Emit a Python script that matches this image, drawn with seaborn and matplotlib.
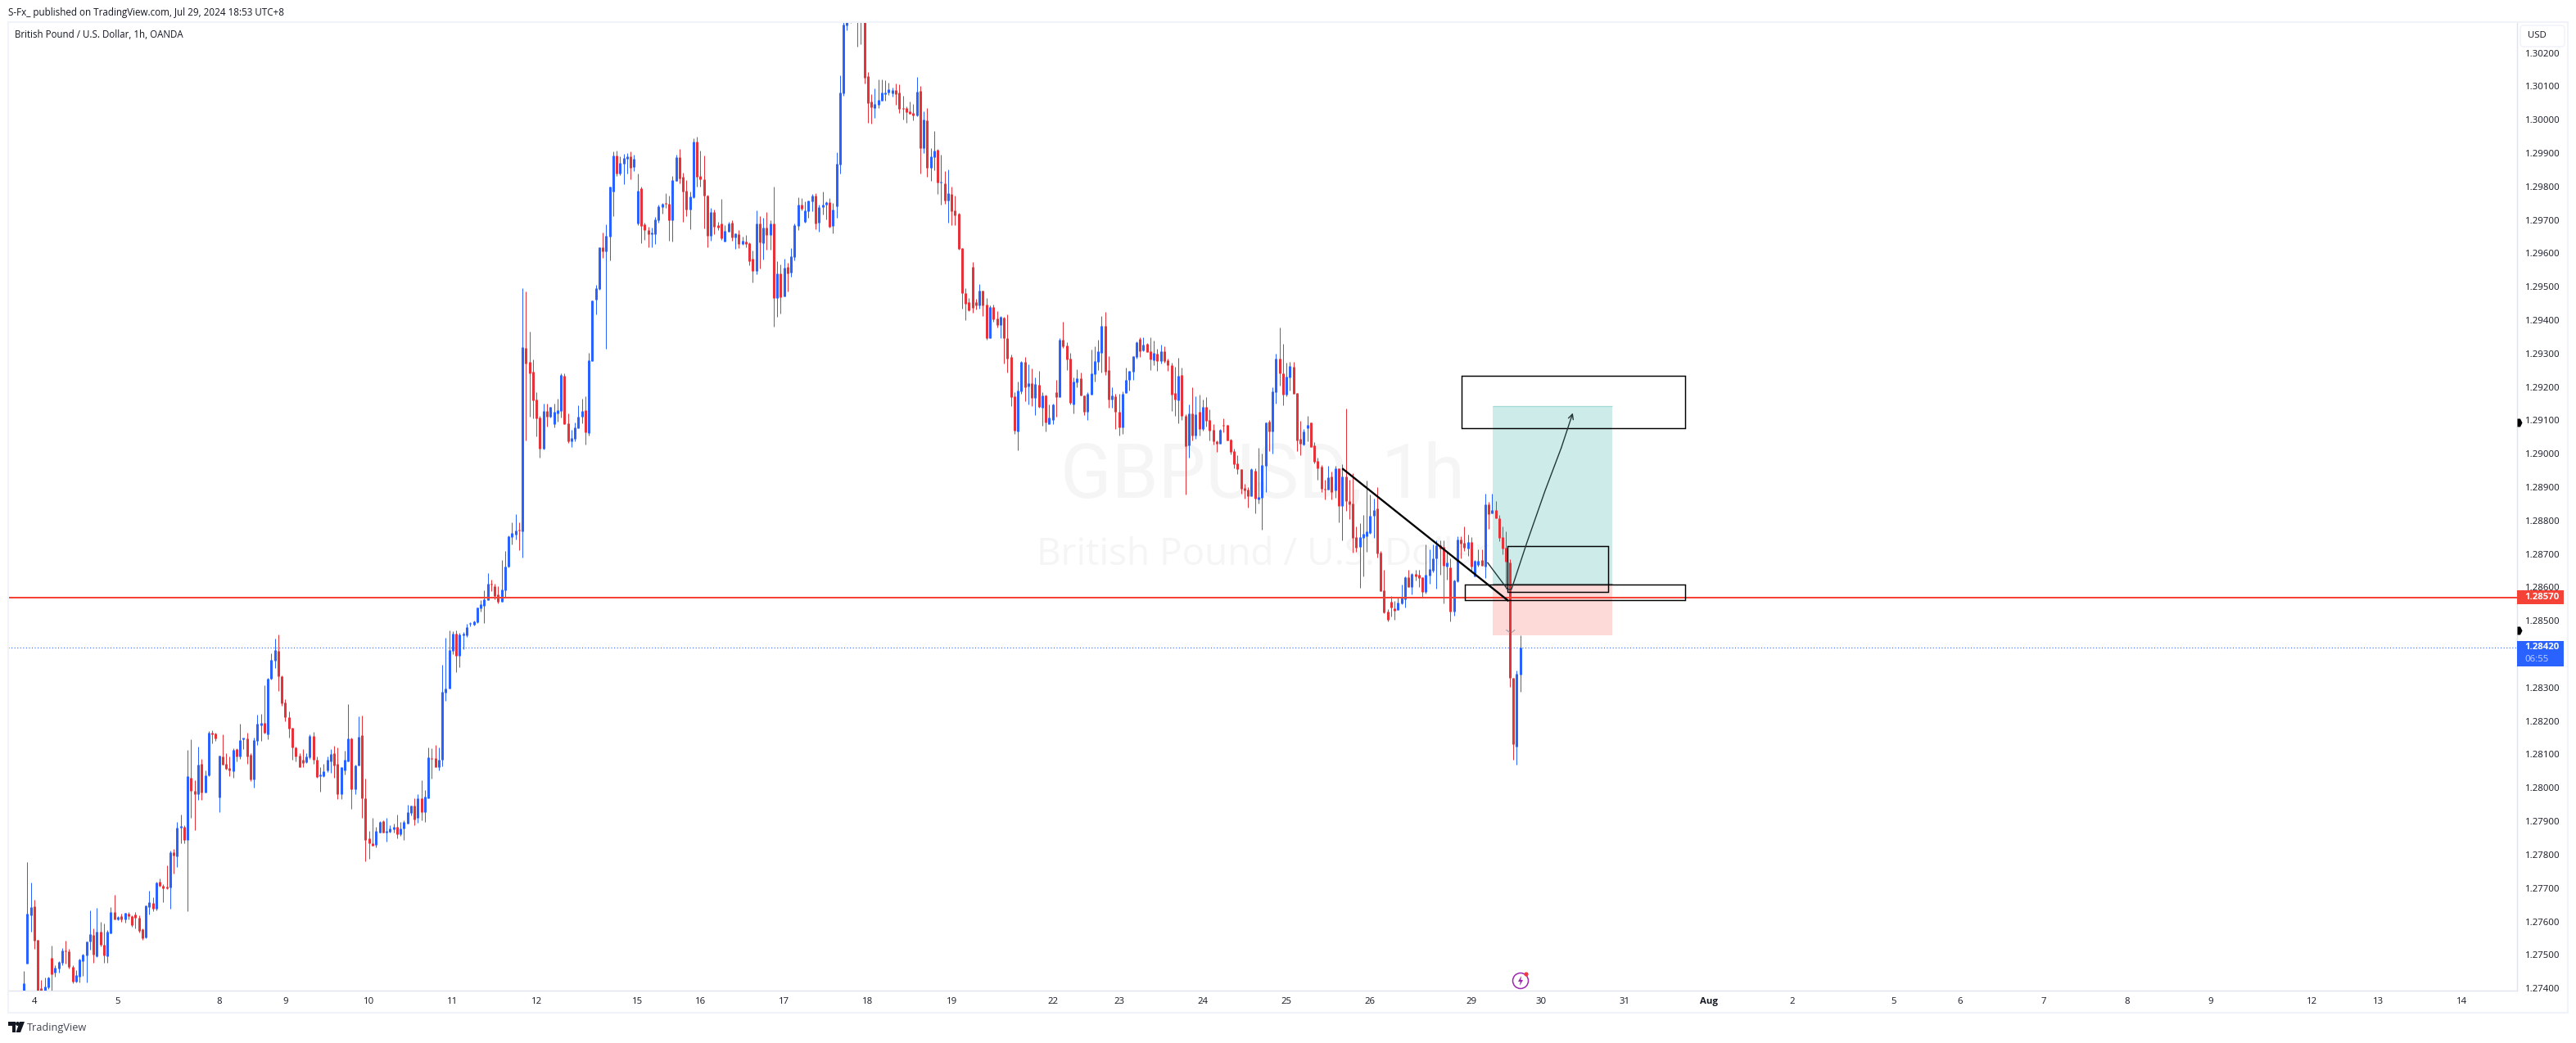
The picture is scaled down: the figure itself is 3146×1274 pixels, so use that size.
import matplotlib
matplotlib.use("Agg")
import matplotlib.pyplot as plt
from matplotlib.patches import Rectangle, Polygon, Circle, FancyBboxPatch
import pandas as pd
import seaborn as sns

# hourly GBPUSD candles, values in 1e-5 price units
opens = [
    127380,127474,127618,127645,127545,127401,127376,127402,127491,127446,
    127460,127476,127513,127510,127464,127421,127435,127482,127499,127540,
    127560,127497,127569,127531,127496,127564,127628,127607,127615,127607,
    127623,127616,127620,127611,127576,127553,127643,127654,127638,127718,
    127707,127704,127701,127808,127795,127880,127884,127844,128031,127991,
    127981,128072,127986,128037,128166,128163,127971,128094,128072,128060,
    128050,128116,128094,128146,128148,128099,128025,128141,128188,128195,
    128161,128327,128381,128410,128335,128256,128212,128180,128121,128097,
    128085,128077,128092,128156,128085,128034,128036,128051,128079,128104,
    128071,127982,128053,128080,128148,127997,128068,128158,127970,127848,
    127835,127828,127866,127900,127865,127868,127876,127884,127860,127879,
    127894,127924,127948,127909,127970,127926,127970,128089,128089,128061,
    128085,128286,128298,128411,128461,128396,128456,128456,128491,128489,
    128496,128538,128545,128563,128611,128603,128579,128558,128592,128662,
    128750,128757,128773,128768,129317,129275,129246,129162,129108,129015,
    129128,129111,129089,129121,129128,129233,129091,129037,129045,129076,
    129111,129130,129062,129277,129462,129493,129618,129606,129650,129785,
    129893,129839,129868,129883,129891,129859,129690,129795,129687,129670,
    129658,129658,129699,129739,129750,129748,129699,129817,129888,129829,
    129788,129731,129768,129935,129832,129822,129773,129653,129724,129685,
    129690,129636,129665,129692,129648,129658,129628,129636,129631,129584,
    129547,129690,129631,129677,129655,129690,129466,129540,129471,129560,
    129542,129589,129682,129746,129694,129726,129756,129773,129692,129739,
    129746,129753,129682,129741,129865,130079,130282,130325,130320,130370,
    130340,130330,130130,130054,130034,130044,130057,130076,130081,130079,
    130088,130081,130034,130034,130025,130020,130012,130086,129914,129998,
    129856,129887,129909,129812,129809,129758,129777,129728,129718,129615,
    129481,129454,129559,129454,129444,129488,129446,129346,129439,129405,
    129385,129407,129346,129290,129172,129067,129187,129275,129202,129211,
    129167,129206,129138,129175,129089,129101,129184,129170,129341,129324,
    129285,129148,129214,129226,129175,129126,129177,129238,129275,129302,
    129383,129251,129162,129172,129126,129079,129182,129221,129246,129290,
    129344,129309,129329,129307,129280,129300,129277,129307,129280,129265,
    129182,129160,129236,129113,129025,129121,129054,129126,129074,129140,
    129101,129072,129037,129030,129086,129086,129042,129008,128971,128954,
    128898,128893,128873,128949,128863,128868,128964,129096,129067,129184,
    129285,129241,129177,129228,129260,129182,129045,129027,129077,129094,
    129025,128978,128961,128895,128893,128932,128890,128956,128843,128931,
    128858,128851,128750,128721,128748,128752,128762,128814,128836,128703,
    128591,128527,128556,128537,128532,128551,128564,128630,128601,128640,
    128637,128630,128586,128635,128650,128686,128726,128721,128662,128659,
    128527,128618,128743,128733,128716,128735,128634,128667,128681,128662,
    128848,128821,128831,128806,128750,128718,128675,128329,128123,128339,
]
highs = [
    127451,127777,127716,127665,127545,127424,127433,127435,127527,127470,
    127482,127520,127542,127517,127470,127454,127489,127503,127540,127633,
    127580,127640,127598,127593,127574,127644,127679,127617,127623,127625,
    127629,127618,127628,127618,127580,127647,127692,127672,127719,127729,
    127711,127768,127811,127817,127899,127919,127889,128114,128146,128023,
    128124,128087,128053,128170,128173,128165,128097,128159,128103,128094,
    128118,128118,128192,128148,128165,128103,128151,128218,128222,128308,
    128330,128402,128446,128459,128337,128265,128229,128180,128124,128103,
    128116,128103,128159,128168,128094,128061,128071,128095,128116,128126,
    128120,128062,128112,128251,128151,128069,128215,128217,128027,127872,
    127909,127883,127901,127902,127911,127889,127893,127921,127899,127903,
    127950,127948,127969,127982,128024,127993,128121,128118,128129,128120,
    128368,128449,128471,128469,128471,128463,128467,128491,128495,128500,
    128540,128561,128592,128643,128622,128610,128603,128682,128710,128755,
    128795,128819,128795,129496,129486,129365,129282,129184,129113,129150,
    129150,129140,129150,129165,129241,129241,129121,129072,129094,129145,
    129165,129172,129302,129459,129506,129618,129663,129687,129800,129905,
    129908,129891,129898,129900,129905,129895,129839,129800,129692,129680,
    129677,129709,129746,129751,129780,129773,129832,129895,129913,129841,
    129819,129785,129944,129949,129908,129893,129775,129736,129731,129694,
    129763,129685,129694,129699,129660,129670,129650,129655,129633,129609,
    129729,129712,129707,129724,129699,129800,129577,129567,129584,129572,
    129616,129690,129768,129766,129756,129758,129778,129780,129746,129785,
    129756,129766,129751,129903,130133,130297,130330,130345,130370,130400,
    130375,130350,130142,130076,130093,130120,130120,130118,130110,130096,
    130108,130106,130071,130039,130054,130047,130128,130101,130025,130034,
    129914,129966,129912,129895,129846,129851,129799,129772,129721,129615,
    129495,129466,129574,129463,129508,129488,129466,129444,129446,129427,
    129412,129409,129417,129297,129185,129216,129277,129290,129268,129255,
    129228,129248,129184,129177,129148,129150,129221,129346,129395,129334,
    129302,129228,129253,129243,129175,129184,129312,129322,129341,129412,
    129425,129292,129199,129179,129179,129187,129258,129248,129292,129336,
    129349,129349,129331,129349,129339,129314,129327,129322,129285,129273,
    129260,129287,129258,129118,129148,129199,129172,129177,129162,129170,
    129133,129089,129040,129074,129105,129086,129045,129015,128996,128954,
    128910,128900,128956,128956,129018,129001,129094,129101,129199,129300,
    129378,129329,129273,129275,129275,129182,129099,129074,129113,129094,
    129035,128988,128966,128922,128964,128947,128964,128956,128968,129135,
    128922,128941,128782,128792,128816,128919,128877,128865,128900,128708,
    128652,128534,128574,128559,128571,128608,128632,128652,128642,128652,
    128652,128630,128728,128713,128728,128740,128740,128740,128708,128686,
    128624,128752,128752,128782,128757,128750,128683,128713,128713,128880,
    128855,128880,128858,128816,128782,128767,128685,128329,128351,128457,
]
lows = [
    127376,127474,127569,127518,127360,127335,127360,127399,127393,127435,
    127446,127470,127474,127458,127415,127417,127417,127437,127417,127515,
    127476,127494,127525,127476,127476,127564,127607,127603,127598,127597,
    127607,127585,127580,127568,127545,127551,127621,127631,127634,127703,
    127657,127696,127638,127744,127764,127835,127835,127631,127909,127873,
    127963,127964,127985,128036,128132,128141,127928,128069,128054,128034,
    128030,128080,128087,128115,128072,128020,128000,128129,128140,128162,
    128146,128325,128359,128291,128245,128200,128151,128083,128080,128062,
    128062,128074,128087,128071,128031,127989,128033,128048,128046,128031,
    127966,127966,128040,128079,127938,127981,128066,127911,127779,127788,
    127826,127821,127866,127865,127838,127866,127866,127848,127857,127845,
    127893,127917,127889,127895,127903,127897,127969,128027,128061,128053,
    128065,128261,128298,128399,128347,128361,128414,128451,128483,128487,
    128494,128528,128494,128561,128589,128565,128553,128556,128569,128661,
    128728,128744,128711,128690,129040,129110,129107,129052,128988,129014,
    129081,129108,129080,129096,129108,129089,129032,129020,129037,129076,
    129092,129027,129054,129277,129417,129491,129587,129315,129579,129712,
    129832,129834,129807,129839,129822,129846,129685,129631,129641,129618,
    129618,129628,129692,129719,129736,129638,129636,129817,129810,129694,
    129712,129672,129766,129800,129800,129675,129618,129638,129658,129670,
    129641,129636,129665,129638,129614,129616,129626,129618,129565,129513,
    129538,129555,129582,129611,129611,129381,129410,129420,129471,129486,
    129530,129579,129670,129729,129692,129707,129726,129672,129665,129716,
    129702,129677,129660,129707,129838,130071,130267,130289,130296,130219,
    130226,130108,129990,129988,130005,130034,130057,130057,130074,130069,
    130044,130020,130000,129990,130017,129998,130010,129838,129900,129829,
    129816,129848,129777,129745,129749,129691,129684,129684,129610,129434,
    129400,129427,129422,129431,129434,129412,129341,129346,129395,129378,
    129346,129270,129243,129143,129059,129010,129179,129157,129148,129143,
    129116,129138,129084,129067,129089,129089,129111,129170,129317,129251,
    129148,129121,129199,129175,129116,129101,129177,129216,129251,129243,
    129236,129138,129138,129074,129054,129059,129182,129189,129221,129285,
    129290,129307,129304,129251,129265,129248,129270,129273,129248,129128,
    129113,129091,129101,128878,128988,129040,129045,129054,129069,129081,
    129040,129027,129005,129030,129064,129040,128998,128956,128939,128880,
    128866,128839,128873,128822,128851,128773,128885,129008,129001,129150,
    129204,129145,129172,129189,129179,129008,128996,129025,129037,129020,
    128971,128922,128885,128863,128893,128863,128868,128795,128740,128828,
    128804,128703,128706,128598,128632,128706,128760,128748,128689,128588,
    128522,128498,128512,128502,128532,128549,128539,128601,128578,128620,
    128601,128569,128581,128610,128646,128596,128637,128551,128623,128498,
    128515,128615,128686,128708,128694,128645,128632,128662,128664,128627,
    128775,128821,128806,128738,128699,128596,128302,128084,128069,128288,
]
closes = [
    127415,127623,127643,127542,127384,127360,127405,127432,127443,127461,
    127478,127513,127510,127464,127420,127439,127486,127500,127540,127562,
    127500,127569,127530,127499,127569,127628,127607,127613,127607,127625,
    127616,127589,127611,127572,127550,127647,127657,127638,127717,127707,
    127700,127700,127808,127797,127880,127886,127844,128034,127991,127982,
    128070,127986,128038,128165,128159,128147,128097,128070,128058,128051,
    128114,128094,128143,128147,128094,128025,128143,128192,128195,128165,
    128327,128383,128412,128335,128254,128212,128178,128120,128094,128063,
    128075,128094,128156,128083,128032,128039,128050,128085,128102,128066,
    127980,128061,128085,128148,127997,128068,128153,127969,127845,127835,
    127827,127870,127899,127865,127872,127879,127884,127860,127879,127899,
    127928,127946,127904,127970,127926,127973,128092,128087,128062,128085,
    128287,128298,128412,128461,128395,128459,128461,128481,128493,128498,
    128540,128549,128564,128610,128608,128574,128557,128594,128662,128753,
    128764,128770,128770,129319,129270,129241,129160,129106,129015,129128,
    129111,129140,129125,129130,129237,129089,129037,129047,129079,129111,
    129128,129064,129280,129459,129496,129618,129606,129653,129800,129893,
    129839,129871,129886,129891,129856,129883,129788,129682,129670,129658,
    129660,129702,129741,129748,129748,129699,129819,129888,129824,129785,
    129731,129770,129935,129829,129822,129773,129653,129724,129680,129677,
    129645,129667,129690,129648,129660,129628,129638,129628,129577,129547,
    129690,129633,129677,129655,129690,129466,129540,129469,129557,129540,
    129591,129685,129746,129734,129729,129758,129773,129690,129739,129746,
    129753,129680,129731,129868,130081,130284,130313,130292,130355,130300,
    130300,130125,130049,130037,130047,130059,130081,130081,130091,130088,
    130076,130032,130032,130022,130017,130012,130083,129914,130000,129856,
    129890,129907,129811,129814,129758,129780,129726,129713,129613,129481,
    129449,129429,129436,129444,129488,129444,129346,129439,129402,129385,
    129409,129346,129286,129170,129069,129189,129275,129199,129211,129167,
    129209,129140,129175,129094,129108,129148,129170,129341,129322,129282,
    129152,129216,129226,129175,129126,129179,129241,129277,129307,129383,
    129246,129162,129175,129126,129079,129179,129221,129248,129292,129334,
    129307,129327,129304,129282,129302,129277,129307,129277,129265,129177,
    129162,129233,129113,129023,129121,129054,129118,129074,129140,129099,
    129069,129037,129030,129072,129084,129040,129005,128969,128954,128895,
    128890,128873,128954,128866,128871,128966,129094,129067,129187,129285,
    129241,129177,129231,129263,129179,129040,129030,129067,129086,129020,
    128976,128956,128895,128893,128929,128885,128956,128844,128931,128858,
    128848,128748,128718,128750,128760,128767,128814,128831,128701,128588,
    128525,128502,128539,128529,128554,128571,128630,128601,128640,128632,
    128627,128586,128637,128654,128686,128726,128716,128664,128674,128527,
    128620,128743,128730,128718,128735,128662,128679,128679,128664,128848,
    128819,128831,128806,128748,128716,128676,128329,128131,128341,128420,
]

# x axis: bar number of each date label
date_bars = [3, 27, 56, 75, 99, 123, 147, 176, 194, 218, 242, 266, 295, 314, 338,
             362, 386, 415, 435, 459, 483, 507, 536, 555, 579, 603, 627, 656, 675, 699]
date_labels = ["4", "5", "8", "9", "10", "11", "12", "15", "16", "17", "18", "19", "22", "23", "24",
               "25", "26", "29", "30", "31", "Aug", "2", "5", "6", "7", "8", "9", "12", "13", "14"]

# drawings on the chart (bar, price)
last_price = 1.28420
line_price = 1.28570
position_bars = [421.1, 455.4]
position_prices = [1.29143, 1.28611, 1.28456]
zone_top = [412.3, 476.4, 1.29076, 1.29233]
zone_mid = [425.3, 454.3, 1.28586, 1.28723]
zone_low = [413.2, 476.4, 1.28561, 1.28608]
trend_bars = [378, 425.7]
trend_prices = [1.28956, 1.28559]
path_bars = [419.6, 425.4, 426.5, 430.9, 436.1, 440.8, 444.1]
path_prices = [1.28675, 1.28594, 1.28594, 1.28733, 1.28888, 1.29018, 1.29122]

W, H = 3146, 1274
BLUE = "#2962FF"
RED = "#E6333A"
INK = "#131722"

sns.set_theme(style="white", rc={"lines.solid_capstyle": "butt", "axes.linewidth": 1})
plt.rcParams["font.family"] = ["Open Sans", "DejaVu Sans"]

df = pd.DataFrame({"bar": range(len(opens)), "open": opens, "high": highs, "low": lows, "close": closes})
for col in ["open", "high", "low", "close"]:
    df[col] = df[col] / 1e5
df["side"] = ["up" if c >= o else "down" for o, c in zip(df["open"], df["close"])]
df["top"] = df[["open", "close"]].max(axis=1)
df["bottom"] = df[["open", "close"]].min(axis=1)
# a flat candle still shows as a thin line
df["top"] = df["top"].where(df["top"] - df["bottom"] > 0.00003, df["bottom"] + 0.00003)

wicks = df.melt(id_vars=["bar", "side"], value_vars=["high", "low"], value_name="price")
bodies = df.melt(id_vars=["bar", "side"], value_vars=["top", "bottom"], value_name="price")
colors = {"up": BLUE, "down": RED}

fig = plt.figure(figsize=(W / 100, H / 100), dpi=100, facecolor="white")
ax = fig.add_axes([10 / W, (H - 1210) / H, 3064 / W, 1183 / H])

ax.text(0.5, 0.509, "GBPUSD, 1h", transform=ax.transAxes, ha="center", va="baseline", fontsize=66,
        family="Roboto", color="#F5F5F6", zorder=0)
ax.text(0.5, 0.4396, "British Pound / U.S. Dollar", transform=ax.transAxes, ha="center", va="baseline",
        fontsize=33, color="#F5F5F6", zorder=0)

ax.add_patch(Rectangle((position_bars[0], position_prices[1]), position_bars[1] - position_bars[0],
                       position_prices[0] - position_prices[1], fc="#CCEBE9", ec="none", zorder=1))
ax.add_patch(Rectangle((position_bars[0], position_prices[2]), position_bars[1] - position_bars[0],
                       position_prices[1] - position_prices[2], fc="#FDD9D8", ec="none", zorder=1))
ax.plot(position_bars, [position_prices[0]] * 2, color="#A3DAD3", lw=0.9, zorder=1.5)
ax.plot(position_bars, [position_prices[1]] * 2, color="#8A9A9A", lw=0.9, zorder=1.5)

sns.lineplot(data=wicks, x="bar", y="price", hue="side", palette=colors, units="bar", estimator=None,
             sort=False, linewidth=0.72, legend=False, ax=ax, zorder=3, solid_capstyle="butt", snap=True)
sns.lineplot(data=bodies, x="bar", y="price", hue="side", palette=colors, units="bar", estimator=None,
             sort=False, linewidth=2.16, legend=False, ax=ax, zorder=3, solid_capstyle="butt", snap=True)

ax.axhline(line_price, color="#F44336", lw=1.45, zorder=4)
ax.axhline(last_price, color=BLUE, lw=0.8, ls=(0, (1, 2.2)), zorder=2)

for x0, x1, y0, y1 in [zone_top, zone_mid, zone_low]:
    ax.add_patch(Rectangle((x0, y0), x1 - x0, y1 - y0, fc="none", ec="black", lw=1.05, zorder=5))
ax.plot(trend_bars, trend_prices, color="black", lw=1.7, zorder=5, solid_capstyle="butt")
ax.plot(path_bars[:-1], path_prices[:-1], color="#24363A", lw=1.0, zorder=5)
ax.annotate("", xy=(path_bars[-1], path_prices[-1]), xytext=(path_bars[-2], path_prices[-2]),
            arrowprops=dict(arrowstyle="->", color="#24363A", lw=1.0, shrinkA=0, shrinkB=0, mutation_scale=11),
            zorder=5)
# small grey handles of the position tool
ax.plot([425, 426], [1.28473, 1.28465], color="#A0A6B0", lw=0.9, zorder=5)
ax.plot([426.6, 427.5], [1.28465, 1.28473], color="#A0A6B0", lw=0.9, zorder=5)

ax.set_xlim(-4.46, 714.8)
ax.set_ylim(1.27393, 1.30292)

ax.set_xticks(date_bars)
ax.set_xticklabels(date_labels, fontsize=8.2, color=INK)
ax.get_xticklabels()[date_labels.index("Aug")].set_fontweight("bold")
ax.yaxis.tick_right()
y_ticks = [1.274 + i * 0.001 for i in range(29)]
ax.set_yticks(y_ticks)
ax.set_yticklabels([f"{p:.5f}" for p in y_ticks], fontsize=8.2, color=INK)
ax.tick_params(axis="x", length=0, pad=5.5)
ax.tick_params(axis="y", length=0, pad=7)
ax.set_xlabel("")
ax.set_ylabel("")
for side in ["top", "left"]:
    ax.spines[side].set_visible(False)
for side in ["bottom", "right"]:
    ax.spines[side].set_color("#E0E3EB")

# price labels on the right axis
yax = ax.get_yaxis_transform()
box_w = 57 / 3064
ax.add_patch(Rectangle((1, 1.28550), box_w, 0.00041, transform=yax, fc="#F44336", ec="none", clip_on=False, zorder=6))
ax.text(1 + 9.7 / 3064, line_price, "1.28570", transform=yax, color="white", fontsize=8.2, fontweight="bold",
        va="center", clip_on=False, zorder=7)
ax.add_patch(Rectangle((1, 1.28364), box_w, 0.00075, transform=yax, fc=BLUE, ec="none", clip_on=False, zorder=6))
ax.text(1 + 9.7 / 3064, last_price, "1.28420", transform=yax, color="white", fontsize=8.2, fontweight="bold",
        va="center", clip_on=False, zorder=7)
ax.text(1 + 9.7 / 3064, 1.28385, "06:55", transform=yax, color="#C4D2FF", fontsize=8.2,
        va="center", clip_on=False, zorder=7)
flag = [(-0.6, 1), (0.1, 1), (0.6, 0), (0.1, -1), (-0.6, -1)]
for flag_price in [1.29094, 1.28471]:
    ax.plot([1 + 3 / 3064], [flag_price], transform=yax, marker=flag, ms=7.2, color="black", mew=0,
            clip_on=False, zorder=7)

# outer frame and page texts
fig.add_artist(Rectangle((10 / W, (H - 1237) / H), 3126 / W, 1210 / H, transform=fig.transFigure,
                         fc="none", ec="#F0F3FA", lw=1.5))
fig.text(10 / W, (H - 15) / H, "S-Fx_ published on TradingView.com, Jul 29, 2024 18:53 UTC+8", fontsize=8.4,
         color=INK, va="center")
fig.text(18 / W, (H - 42) / H, "British Pound / U.S. Dollar, 1h, OANDA", fontsize=8.3, color=INK, va="center")
fig.text(33 / W, (H - 1255) / H, "TradingView", fontsize=9.2, color="#434651", va="center")
fig.text(3087 / W, (H - 44) / H, "USD", fontsize=8.2, color=INK, va="center")


def px(x, y):
    return (x / W, (H - y) / H)


# currency box, drawn in pixels
ax_box = fig.add_axes([0, 0, 1, 1], facecolor="none")
ax_box.set_xlim(0, W)
ax_box.set_ylim(H, 0)
ax_box.axis("off")
ax_box.add_patch(FancyBboxPatch((3081, 34), 48, 20, boxstyle="round,pad=3,rounding_size=4",
                                fc="none", ec="#F0F3FA", lw=1.1))

# TradingView mark
ax_box.add_patch(Polygon([(10, 1248), (19, 1248), (19, 1261), (14.5, 1261), (14.5, 1253), (10, 1253)],
                         closed=True, fc=INK, ec="none"))
ax_box.add_patch(Polygon([(24, 1248), (30, 1248), (25, 1261), (19.5, 1261)], closed=True, fc=INK, ec="none"))
ax_box.add_patch(Circle((21.5, 1250.5), 2.5, fc=INK, ec="none"))

# events icon under the last candles
ax_box.add_patch(Circle((1857, 1198), 9.5, fc="none", ec="#9C27B0", lw=1.1))
ax_box.add_patch(Polygon([(1858, 1192), (1854, 1199), (1856.7, 1199), (1856, 1204), (1860, 1197), (1857.4, 1197)],
                         closed=True, fc="#9C27B0", ec="none"))
ax_box.add_patch(Circle((1864, 1190), 2.6, fc="#F23645", ec="none"))

fig.savefig("out.png", dpi=100, facecolor="white")
